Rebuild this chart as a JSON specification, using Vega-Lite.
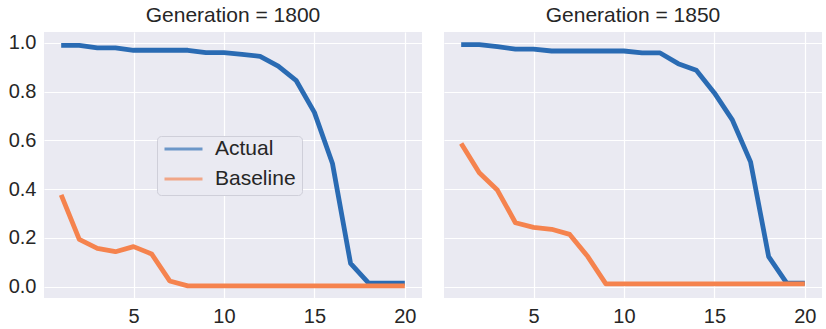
{
  "$schema": "https://vega.github.io/schema/vega-lite/v6.json",
  "padding": {"left": 8, "top": 5, "right": 2, "bottom": 2},
  "background": "white",
  "config": {
    "font": "Liberation Sans",
    "view": {"fill": "#EAEAF2", "stroke": null},
    "axis": {"grid": true, "gridColor": "white", "gridWidth": 1.2, "domain": false, "ticks": false, "labelFontSize": 20, "labelColor": "#262626", "title": null, "labelPadding": 8},
    "header": {"labelFontSize": 21, "labelColor": "#262626"}
  },
  "data": {"values": [
    {"gen": 1800, "x": 1, "series": "Actual", "v": 0.99},
    {"gen": 1800, "x": 2, "series": "Actual", "v": 0.99},
    {"gen": 1800, "x": 3, "series": "Actual", "v": 0.98},
    {"gen": 1800, "x": 4, "series": "Actual", "v": 0.98},
    {"gen": 1800, "x": 5, "series": "Actual", "v": 0.97},
    {"gen": 1800, "x": 6, "series": "Actual", "v": 0.97},
    {"gen": 1800, "x": 7, "series": "Actual", "v": 0.97},
    {"gen": 1800, "x": 8, "series": "Actual", "v": 0.97},
    {"gen": 1800, "x": 9, "series": "Actual", "v": 0.96},
    {"gen": 1800, "x": 10, "series": "Actual", "v": 0.96},
    {"gen": 1800, "x": 11, "series": "Actual", "v": 0.953},
    {"gen": 1800, "x": 12, "series": "Actual", "v": 0.945},
    {"gen": 1800, "x": 13, "series": "Actual", "v": 0.905},
    {"gen": 1800, "x": 14, "series": "Actual", "v": 0.845},
    {"gen": 1800, "x": 15, "series": "Actual", "v": 0.715},
    {"gen": 1800, "x": 16, "series": "Actual", "v": 0.505},
    {"gen": 1800, "x": 17, "series": "Actual", "v": 0.095},
    {"gen": 1800, "x": 18, "series": "Actual", "v": 0.014},
    {"gen": 1800, "x": 19, "series": "Actual", "v": 0.014},
    {"gen": 1800, "x": 20, "series": "Actual", "v": 0.014},
    {"gen": 1800, "x": 1, "series": "Baseline", "v": 0.376},
    {"gen": 1800, "x": 2, "series": "Baseline", "v": 0.194},
    {"gen": 1800, "x": 3, "series": "Baseline", "v": 0.157},
    {"gen": 1800, "x": 4, "series": "Baseline", "v": 0.143},
    {"gen": 1800, "x": 5, "series": "Baseline", "v": 0.164},
    {"gen": 1800, "x": 6, "series": "Baseline", "v": 0.134},
    {"gen": 1800, "x": 7, "series": "Baseline", "v": 0.023},
    {"gen": 1800, "x": 8, "series": "Baseline", "v": 0.003},
    {"gen": 1800, "x": 9, "series": "Baseline", "v": 0.003},
    {"gen": 1800, "x": 10, "series": "Baseline", "v": 0.003},
    {"gen": 1800, "x": 11, "series": "Baseline", "v": 0.003},
    {"gen": 1800, "x": 12, "series": "Baseline", "v": 0.003},
    {"gen": 1800, "x": 13, "series": "Baseline", "v": 0.003},
    {"gen": 1800, "x": 14, "series": "Baseline", "v": 0.003},
    {"gen": 1800, "x": 15, "series": "Baseline", "v": 0.003},
    {"gen": 1800, "x": 16, "series": "Baseline", "v": 0.003},
    {"gen": 1800, "x": 17, "series": "Baseline", "v": 0.003},
    {"gen": 1800, "x": 18, "series": "Baseline", "v": 0.003},
    {"gen": 1800, "x": 19, "series": "Baseline", "v": 0.003},
    {"gen": 1800, "x": 20, "series": "Baseline", "v": 0.003},
    {"gen": 1850, "x": 1, "series": "Actual", "v": 0.993},
    {"gen": 1850, "x": 2, "series": "Actual", "v": 0.993},
    {"gen": 1850, "x": 3, "series": "Actual", "v": 0.985},
    {"gen": 1850, "x": 4, "series": "Actual", "v": 0.975},
    {"gen": 1850, "x": 5, "series": "Actual", "v": 0.975},
    {"gen": 1850, "x": 6, "series": "Actual", "v": 0.967},
    {"gen": 1850, "x": 7, "series": "Actual", "v": 0.967},
    {"gen": 1850, "x": 8, "series": "Actual", "v": 0.967},
    {"gen": 1850, "x": 9, "series": "Actual", "v": 0.967},
    {"gen": 1850, "x": 10, "series": "Actual", "v": 0.967},
    {"gen": 1850, "x": 11, "series": "Actual", "v": 0.959},
    {"gen": 1850, "x": 12, "series": "Actual", "v": 0.959},
    {"gen": 1850, "x": 13, "series": "Actual", "v": 0.915},
    {"gen": 1850, "x": 14, "series": "Actual", "v": 0.888},
    {"gen": 1850, "x": 15, "series": "Actual", "v": 0.795},
    {"gen": 1850, "x": 16, "series": "Actual", "v": 0.683},
    {"gen": 1850, "x": 17, "series": "Actual", "v": 0.512},
    {"gen": 1850, "x": 18, "series": "Actual", "v": 0.123},
    {"gen": 1850, "x": 19, "series": "Actual", "v": 0.014},
    {"gen": 1850, "x": 20, "series": "Actual", "v": 0.014},
    {"gen": 1850, "x": 1, "series": "Baseline", "v": 0.587},
    {"gen": 1850, "x": 2, "series": "Baseline", "v": 0.467},
    {"gen": 1850, "x": 3, "series": "Baseline", "v": 0.396},
    {"gen": 1850, "x": 4, "series": "Baseline", "v": 0.262},
    {"gen": 1850, "x": 5, "series": "Baseline", "v": 0.243},
    {"gen": 1850, "x": 6, "series": "Baseline", "v": 0.235},
    {"gen": 1850, "x": 7, "series": "Baseline", "v": 0.214},
    {"gen": 1850, "x": 8, "series": "Baseline", "v": 0.123},
    {"gen": 1850, "x": 9, "series": "Baseline", "v": 0.011},
    {"gen": 1850, "x": 10, "series": "Baseline", "v": 0.011},
    {"gen": 1850, "x": 11, "series": "Baseline", "v": 0.011},
    {"gen": 1850, "x": 12, "series": "Baseline", "v": 0.011},
    {"gen": 1850, "x": 13, "series": "Baseline", "v": 0.011},
    {"gen": 1850, "x": 14, "series": "Baseline", "v": 0.011},
    {"gen": 1850, "x": 15, "series": "Baseline", "v": 0.011},
    {"gen": 1850, "x": 16, "series": "Baseline", "v": 0.011},
    {"gen": 1850, "x": 17, "series": "Baseline", "v": 0.011},
    {"gen": 1850, "x": 18, "series": "Baseline", "v": 0.011},
    {"gen": 1850, "x": 19, "series": "Baseline", "v": 0.011},
    {"gen": 1850, "x": 20, "series": "Baseline", "v": 0.011}
  ]},
  "spacing": 22,
  "facet": {
    "column": {
      "field": "gen", "type": "ordinal",
      "header": {"title": null, "labelExpr": "'Generation = ' + datum.value", "labelPadding": 6}
    }
  },
  "spec": {
    "width": 378,
    "height": 266,
    "mark": {"type": "line", "strokeWidth": 4.8, "strokeCap": "butt", "strokeJoin": "round"},
    "encoding": {
      "x": {"field": "x", "type": "quantitative", "scale": {"domain": [0.05, 20.95], "nice": false, "zero": false}, "axis": {"values": [5, 10, 15, 20]}},
      "y": {"field": "v", "type": "quantitative", "scale": {"domain": [-0.047, 1.045], "nice": false, "zero": false}, "axis": {"values": [0, 0.2, 0.4, 0.6, 0.8, 1.0], "format": ".1f"}},
      "color": {
        "field": "series", "type": "nominal",
        "scale": {"domain": ["Actual", "Baseline"], "range": ["#2a6bb3", "#f5834e"]},
        "legend": {
          "title": null, "orient": "none", "legendX": 113, "legendY": 104,
          "fillColor": "#EAEAF2", "strokeColor": "#cfcfd9", "cornerRadius": 4, "padding": 6,
          "symbolType": "stroke", "symbolStrokeWidth": 3, "symbolSize": 1444, "symbolOpacity": 0.65,
          "clipHeight": 14, "rowPadding": 9,
          "labelFontSize": 21, "labelColor": "#262626", "labelOffset": 11
        }
      }
    }
  }
}
